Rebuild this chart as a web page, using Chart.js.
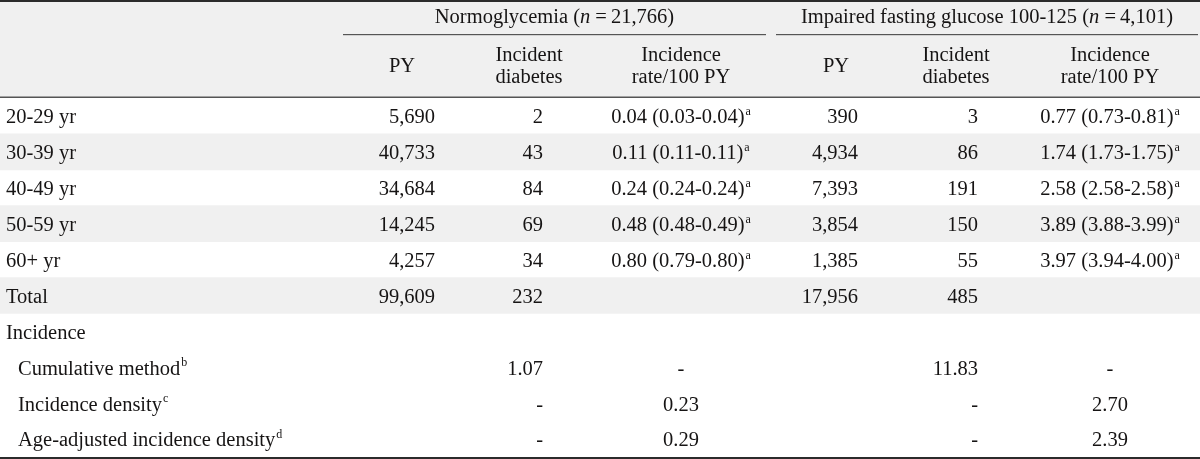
<!DOCTYPE html>
<html>
<head>
  <title>Diabetes incidence table</title>
  <script src="https://cdn.jsdelivr.net/npm/chart.js@4/dist/chart.umd.min.js"></script>
  <style>
    body { margin: 0; background: #fff; }
    #wrap { width: 1200px; height: 459px; }
  </style>
</head>
<body>
<div id="wrap">
  <canvas id="myChart"></canvas>
</div>

<script>
  // rows of the table
  const rowLabels = ['20-29 yr', '30-39 yr', '40-49 yr', '50-59 yr', '60+ yr', 'Total',
    'Incidence', 'Cumulative method', 'Incidence density', 'Age-adjusted incidence density'];
  const rowNotes = ['', '', '', '', '', '', '', 'b', 'c', 'd'];
  const rowIndent = [0, 0, 0, 0, 0, 0, 0, 1, 1, 1];
  const shadedRows = [1, 3, 5];

  // Normoglycemia (n=21,766)
  const normPY = ['5,690', '40,733', '34,684', '14,245', '4,257', '99,609', '', '', '', ''];
  const normCases = ['2', '43', '84', '69', '34', '232', '', '1.07', '-', '-'];
  const normRate = ['0.04 (0.03-0.04)', '0.11 (0.11-0.11)', '0.24 (0.24-0.24)', '0.48 (0.48-0.49)',
    '0.80 (0.79-0.80)', '', '', '-', '0.23', '0.29'];

  // Impaired fasting glucose 100-125 (n=4,101)
  const ifgPY = ['390', '4,934', '7,393', '3,854', '1,385', '17,956', '', '', '', ''];
  const ifgCases = ['3', '86', '191', '150', '55', '485', '', '11.83', '-', '-'];
  const ifgRate = ['0.77 (0.73-0.81)', '1.74 (1.73-1.75)', '2.58 (2.58-2.58)', '3.89 (3.88-3.99)',
    '3.97 (3.94-4.00)', '', '', '-', '2.70', '2.39'];
  const rateNotes = ['a', 'a', 'a', 'a', 'a', '', '', '', '', ''];

  const groups = [
    { pre: 'Normoglycemia (', n: '\u2009=\u200921,766)', from: 343, to: 766 },
    { pre: 'Impaired fasting glucose 100-125 (', n: '\u2009=\u20094,101)', from: 776, to: 1198 }
  ];

  const columns = [
    { values: normPY, x: 435, align: 'right', head: ['PY'], headX: 402 },
    { values: normCases, x: 543, align: 'right', head: ['Incident', 'diabetes'], headX: 529 },
    { values: normRate, x: 681, align: 'center', head: ['Incidence', 'rate/100 PY'], headX: 681, notes: rateNotes },
    { values: ifgPY, x: 858, align: 'right', head: ['PY'], headX: 836 },
    { values: ifgCases, x: 978, align: 'right', head: ['Incident', 'diabetes'], headX: 956 },
    { values: ifgRate, x: 1110, align: 'center', head: ['Incidence', 'rate/100 PY'], headX: 1110, notes: rateNotes }
  ];

  const FONT = '"Liberation Serif", "DejaVu Serif", serif';
  const SIZE = 20.5;
  const INK = '#161414';
  const DY = 2; // serif text sits a little low in the cell

  function drawWithNote(ctx, text, note, x, y, align) {
    ctx.font = SIZE + 'px ' + FONT;
    const w = ctx.measureText(text).width;
    ctx.font = '12px ' + FONT;
    const nw = note ? ctx.measureText(note).width + 1 : 0;
    let start = x;
    if (align === 'center') start = x - (w + nw) / 2;
    if (align === 'right') start = x - w - nw;
    ctx.textAlign = 'left';
    ctx.font = SIZE + 'px ' + FONT;
    ctx.fillText(text, start, y);
    if (note) {
      ctx.font = '12px ' + FONT;
      ctx.fillText(note, start + w + 1, y - 6);
    }
  }

  const tablePlugin = {
    id: 'tablePlugin',
    beforeDraw(chart) {
      const ctx = chart.ctx;
      const top = chart.chartArea.top;
      ctx.save();
      ctx.fillStyle = '#f0f0f0';
      ctx.fillRect(0, 0, chart.width, top);
      ctx.restore();
    },
    afterDatasetsDraw(chart) {
      const ctx = chart.ctx;
      const xs = chart.scales.x;
      const ys = chart.scales.y;
      const area = chart.chartArea;
      ctx.save();
      ctx.textBaseline = 'middle';

      // rules
      ctx.fillStyle = '#2b2b2b';
      ctx.fillRect(0, 0, chart.width, 2);
      ctx.fillRect(0, area.bottom, chart.width, 2);
      ctx.fillStyle = '#555';
      ctx.fillRect(0, area.top - 1.5, chart.width, 1.5);
      groups.forEach(g => {
        const a = xs.getPixelForValue(g.from);
        const b = xs.getPixelForValue(g.to);
        ctx.fillRect(a, 34, b - a, 1.2);
      });

      ctx.fillStyle = INK;
      // group headings with italic n
      groups.forEach(g => {
        const cx = (xs.getPixelForValue(g.from) + xs.getPixelForValue(g.to)) / 2;
        ctx.font = SIZE + 'px ' + FONT;
        const w1 = ctx.measureText(g.pre).width;
        const w3 = ctx.measureText(g.n).width;
        ctx.font = 'italic ' + SIZE + 'px ' + FONT;
        const w2 = ctx.measureText('n').width + 1;
        const x = cx - (w1 + w2 + w3) / 2;
        ctx.textAlign = 'left';
        ctx.font = SIZE + 'px ' + FONT;
        ctx.fillText(g.pre, x, 18);
        ctx.font = 'italic ' + SIZE + 'px ' + FONT;
        ctx.fillText('n', x + w1, 18);
        ctx.font = SIZE + 'px ' + FONT;
        ctx.fillText(g.n, x + w1 + w2, 18);
      });

      // column headings
      ctx.font = SIZE + 'px ' + FONT;
      ctx.textAlign = 'center';
      columns.forEach(c => {
        const hx = xs.getPixelForValue(c.headX);
        if (c.head.length === 1) {
          ctx.fillText(c.head[0], hx, 67);
        } else {
          ctx.fillText(c.head[0], hx, 56);
          ctx.fillText(c.head[1], hx, 78);
        }
      });

      // row labels
      rowLabels.forEach((label, i) => {
        const y = ys.getPixelForValue(i) + DY;
        const x = xs.getPixelForValue(rowIndent[i] ? 18 : 6);
        drawWithNote(ctx, label, rowNotes[i], x, y, 'left');
      });

      // cells
      columns.forEach(c => {
        c.values.forEach((v, i) => {
          if (!v) return;
          const y = ys.getPixelForValue(i) + DY;
          const note = c.notes ? c.notes[i] : '';
          drawWithNote(ctx, v, note, xs.getPixelForValue(c.x), y, c.align);
        });
      });
      ctx.restore();
    }
  };

  const shade = rowLabels.map((_, i) => shadedRows.includes(i) ? [0, 1200] : null);

  new Chart(document.getElementById('myChart').getContext('2d'), {
    type: 'bar',
    data: {
      labels: rowLabels,
      datasets: [{
        data: shade,
        backgroundColor: '#f0f0f0',
        borderWidth: 0,
        barPercentage: 1,
        categoryPercentage: 1
      }]
    },
    options: {
      indexAxis: 'y',
      responsive: true,
      maintainAspectRatio: false,
      animation: false,
      layout: { padding: { top: 98, bottom: 2, left: 0, right: 0 } },
      scales: {
        x: { type: 'linear', min: 0, max: 1200, display: false },
        y: { display: false }
      },
      plugins: {
        legend: { display: false },
        tooltip: { enabled: false }
      }
    },
    plugins: [tablePlugin]
  });
</script>
</body>
</html>
